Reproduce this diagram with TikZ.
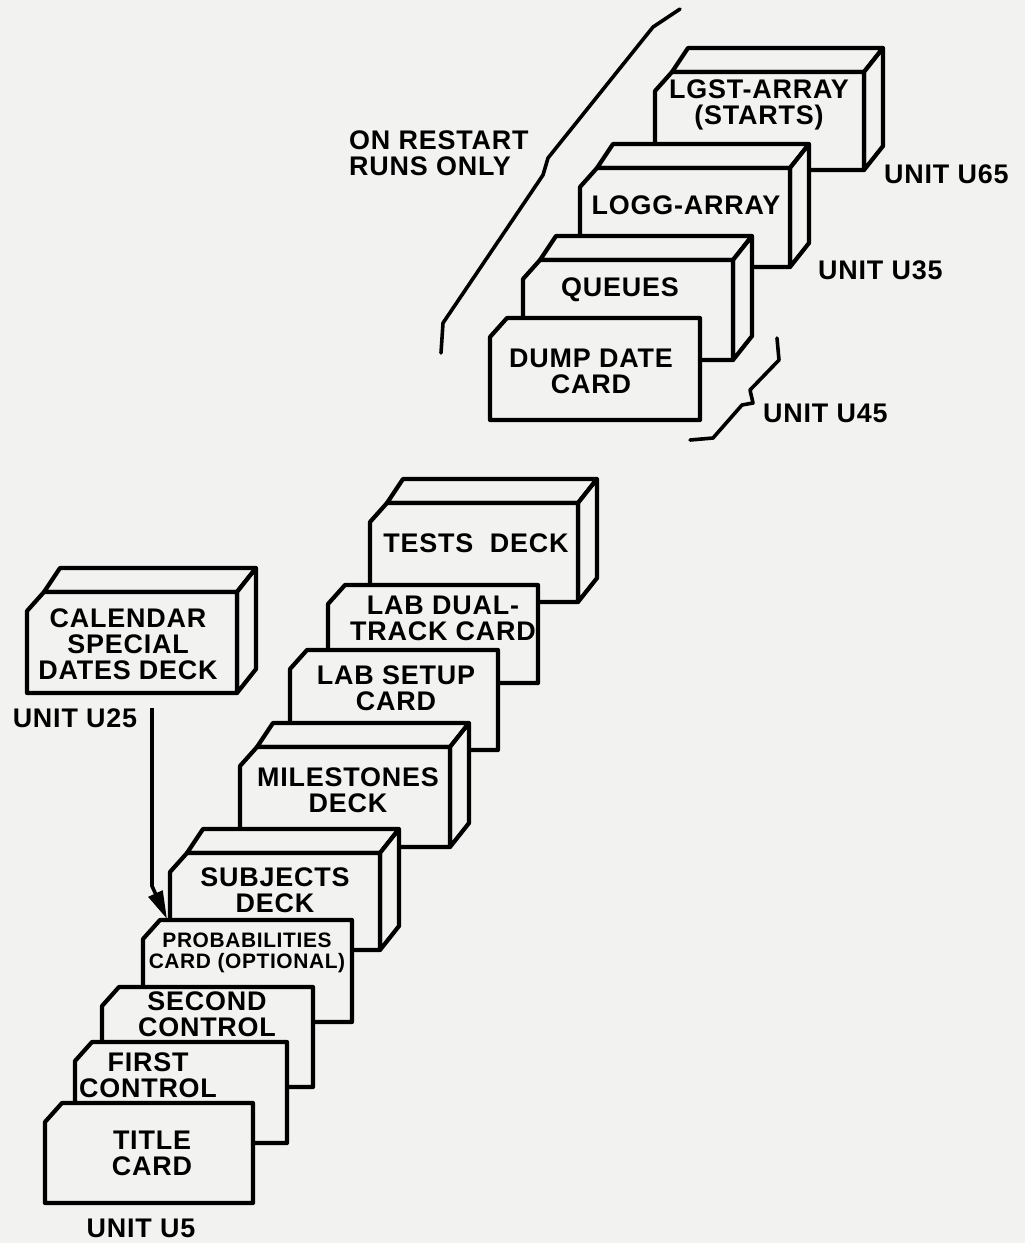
\documentclass[tikz,border=0pt]{standalone}
\usepackage{fontspec}
\setmainfont{Liberation Sans}[LetterSpace=3]
\usetikzlibrary{arrows.meta}
\definecolor{paper}{RGB}{242,242,240}
\tikzset{
  face/.style={draw=black, fill=paper, line width=4.2bp, line join=round},
  lbl/.style={font=\fontsize{27}{26}\selectfont\bfseries, align=center, inner sep=0pt},
  smalllbl/.style={font=\fontsize{21}{21}\selectfont\bfseries, align=center, inner sep=0pt},
  bracepath/.style={draw=black, line width=3.6bp, line join=round, line cap=round},
  feed/.style={draw=black, line width=3.6bp, -{Triangle[length=28bp,width=15bp]}},
}
% front face x0,y0 (top), x1,y1 (bottom); image coordinates (y downwards)
\newcommand\deckbox[4]{%
  \draw[face] (#1+17,#2) -- (#1+33,#2-24) -- (#3+19,#2-24) -- (#3,#2) -- cycle;
  \draw[face] (#3,#2) -- (#3+19,#2-24) -- (#3+19,#4-24) -- (#3,#4) -- cycle;
  \draw[face] (#1,#4) -- (#1,#2+19) -- (#1+17,#2) -- (#3,#2) -- (#3,#4) -- cycle;}
\newcommand\cardbox[4]{%
  \draw[face] (#1,#4) -- (#1,#2+19) -- (#1+17,#2) -- (#3,#2) -- (#3,#4) -- cycle;}
\begin{document}
\begin{tikzpicture}[x=1bp,y=-1bp]
\fill[paper] (0,0) rectangle (1025,1243);
\useasboundingbox (0,0) rectangle (1025,1243);

% ---------- restart group ----------
\deckbox{655}{72}{864}{170}
\node[lbl] (lgst) at (759,105) {LGST-ARRAY\\(STARTS)};
\deckbox{580}{168}{790}{267}
\node[lbl] (logg) at (686,205) {LOGG-ARRAY};
\deckbox{523}{260}{733}{360}
\node[lbl] (queues) at (620,290) {QUEUES};
\cardbox{490}{318}{700}{420}
\node[lbl] (dump) at (591,371) {DUMP DATE\\CARD};

\node[lbl, anchor=west] (u65) at (884,174) {UNIT\ U65};
\node[lbl, anchor=west] (u35) at (818,270) {UNIT\ U35};
\node[lbl, anchor=west] (u45) at (763,413) {UNIT\ U45};
\node[lbl, anchor=west, align=left] (restart) at (349,153) {ON RESTART\\RUNS ONLY};

\draw[bracepath] (680,9) -- (653,27) -- (548,158) -- (543,175) -- (443,323) -- (441,353);
\draw[bracepath] (777,338) -- (779,360) -- (750,390) -- (753,403) -- (742,405) -- (713,438) -- (690,440);

% ---------- calendar ----------
\deckbox{27}{592}{237}{693}
\node[lbl] (cal) at (128,644) {CALENDAR\\SPECIAL\\DATES DECK};
\node[lbl] (u25) at (75,718) {UNIT U25};

% ---------- main stack ----------
\deckbox{370}{503}{578}{602}
\node[lbl] (tests) at (476,543) {TESTS\ \ DECK};
\cardbox{328}{585}{538}{683}
\node[lbl] (dual) at (443,618) {LAB DUAL-\\TRACK CARD};
\cardbox{290}{650}{498}{750}
\node[lbl] (setup) at (396,688) {LAB SETUP\\CARD};
\deckbox{240}{747}{450}{847}
\node[lbl] (miles) at (348,790) {MILESTONES\\DECK};
\deckbox{170}{853}{380}{950}
\node[lbl] (subj) at (275,890) {SUBJECTS\\DECK};
\cardbox{143}{920}{352}{1022}
\node[smalllbl] (prob) at (247,953) {PROBABILITIES\\CARD (OPTIONAL)};
\cardbox{102}{987}{313}{1087}
\node[lbl] (second) at (207,1014) {SECOND\\CONTROL};
\cardbox{75}{1042}{287}{1143}
\node[lbl] (first) at (148,1075) {FIRST\\CONTROL};
\cardbox{45}{1103}{253}{1203}
\node[lbl] (title) at (152,1153) {TITLE\\CARD};
\node[lbl] (u5) at (141,1228) {UNIT\ U5};

% ---------- feed arrow ----------
\coordinate (feedA) at (152,708);
\coordinate (feedB) at (152,886);
\coordinate (feedC) at (167,919);
\draw[feed] (feedA) -- (feedB) -- (feedC);
\end{tikzpicture}
\end{document}
